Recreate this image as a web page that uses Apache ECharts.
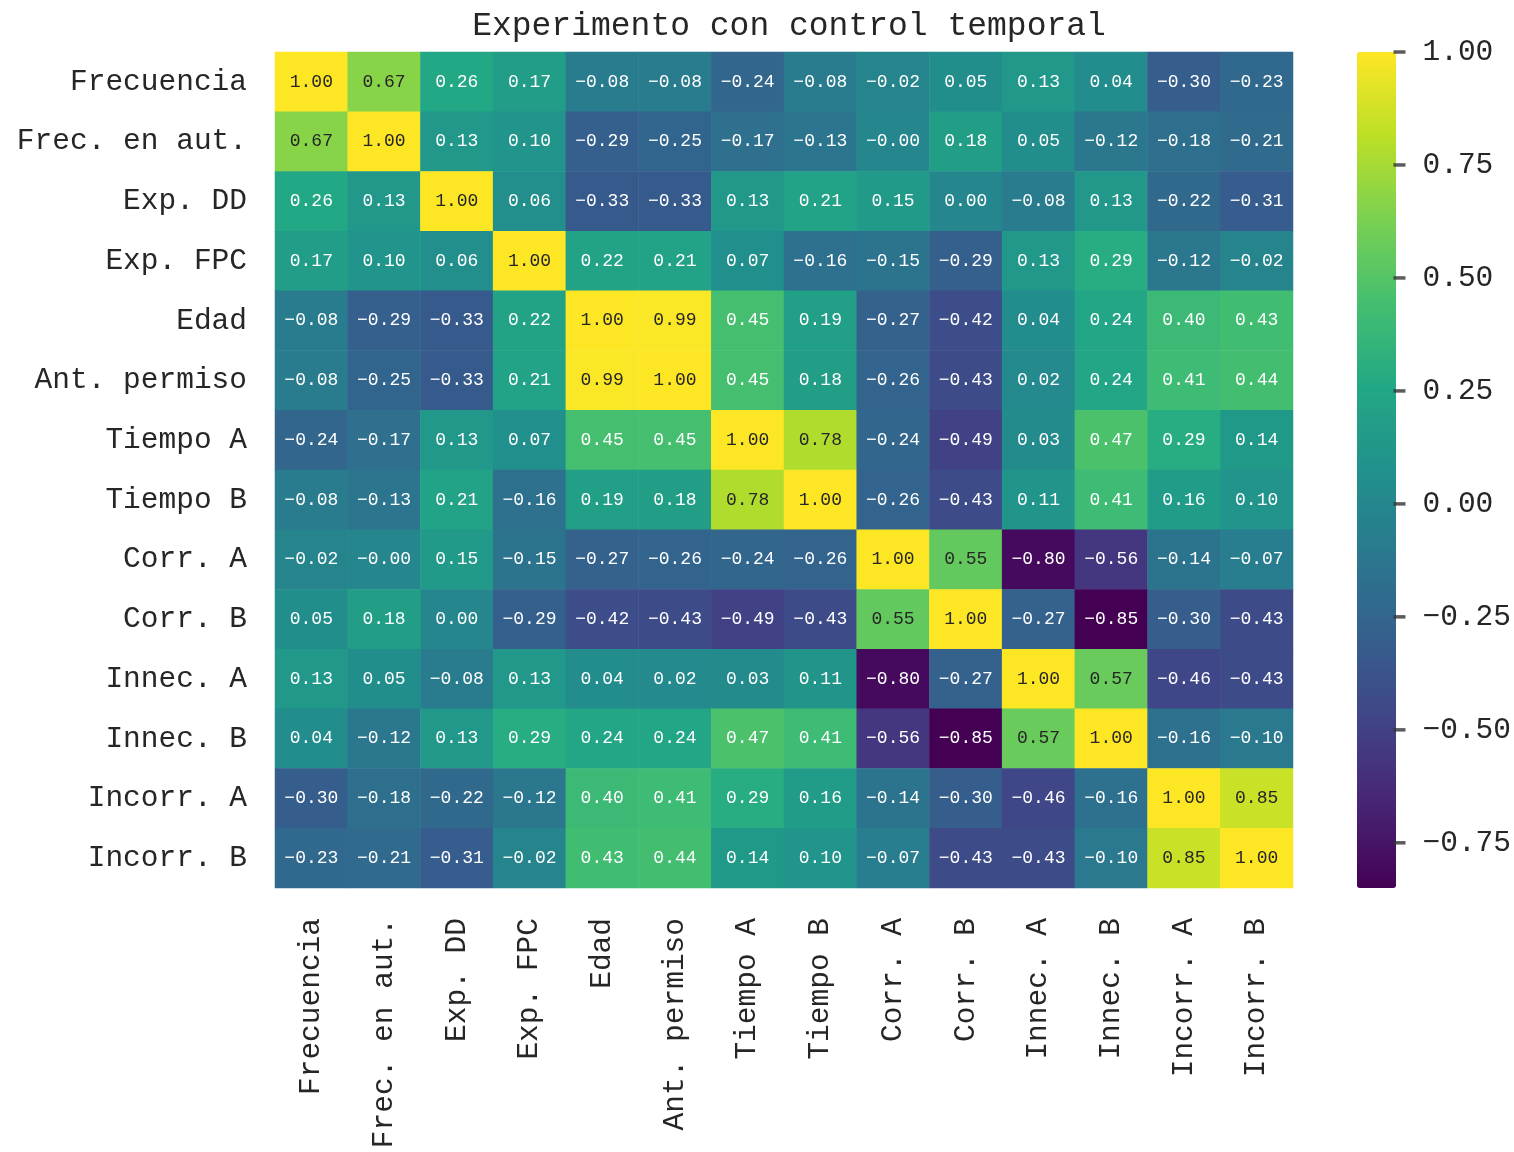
<!DOCTYPE html>
<html>
<head>
<meta charset="utf-8">
<script src="https://cdn.jsdelivr.net/npm/echarts@6/dist/echarts.min.js"></script>
<style>
  html, body { margin: 0; padding: 0; background: #fff; }
  #chart { width: 1514px; height: 1152px; }
</style>
</head>
<body>
<div id="chart"></div>
<script>
const labels = ['Frecuencia', 'Frec. en aut.', 'Exp. DD', 'Exp. FPC', 'Edad', 'Ant. permiso',
  'Tiempo A', 'Tiempo B', 'Corr. A', 'Corr. B', 'Innec. A', 'Innec. B', 'Incorr. A', 'Incorr. B']

// correlation matrix, one array per row (-0.004 shows as "-0.00")
const rowFrecuencia = [1.00, 0.67, 0.26, 0.17, -0.08, -0.08, -0.24, -0.08, -0.02, 0.05, 0.13, 0.04, -0.30, -0.23]
const rowFrecAut = [0.67, 1.00, 0.13, 0.10, -0.29, -0.25, -0.17, -0.13, -0.004, 0.18, 0.05, -0.12, -0.18, -0.21]
const rowExpDD = [0.26, 0.13, 1.00, 0.06, -0.33, -0.33, 0.13, 0.21, 0.15, 0.00, -0.08, 0.13, -0.22, -0.31]
const rowExpFPC = [0.17, 0.10, 0.06, 1.00, 0.22, 0.21, 0.07, -0.16, -0.15, -0.29, 0.13, 0.29, -0.12, -0.02]
const rowEdad = [-0.08, -0.29, -0.33, 0.22, 1.00, 0.99, 0.45, 0.19, -0.27, -0.42, 0.04, 0.24, 0.40, 0.43]
const rowAntPermiso = [-0.08, -0.25, -0.33, 0.21, 0.99, 1.00, 0.45, 0.18, -0.26, -0.43, 0.02, 0.24, 0.41, 0.44]
const rowTiempoA = [-0.24, -0.17, 0.13, 0.07, 0.45, 0.45, 1.00, 0.78, -0.24, -0.49, 0.03, 0.47, 0.29, 0.14]
const rowTiempoB = [-0.08, -0.13, 0.21, -0.16, 0.19, 0.18, 0.78, 1.00, -0.26, -0.43, 0.11, 0.41, 0.16, 0.10]
const rowCorrA = [-0.02, -0.004, 0.15, -0.15, -0.27, -0.26, -0.24, -0.26, 1.00, 0.55, -0.80, -0.56, -0.14, -0.07]
const rowCorrB = [0.05, 0.18, 0.00, -0.29, -0.42, -0.43, -0.49, -0.43, 0.55, 1.00, -0.27, -0.85, -0.30, -0.43]
const rowInnecA = [0.13, 0.05, -0.08, 0.13, 0.04, 0.02, 0.03, 0.11, -0.80, -0.27, 1.00, 0.57, -0.46, -0.43]
const rowInnecB = [0.04, -0.12, 0.13, 0.29, 0.24, 0.24, 0.47, 0.41, -0.56, -0.85, 0.57, 1.00, -0.16, -0.10]
const rowIncorrA = [-0.30, -0.18, -0.22, -0.12, 0.40, 0.41, 0.29, 0.16, -0.14, -0.30, -0.46, -0.16, 1.00, 0.85]
const rowIncorrB = [-0.23, -0.21, -0.31, -0.02, 0.43, 0.44, 0.14, 0.10, -0.07, -0.43, -0.43, -0.10, 0.85, 1.00]

const colorbarTicks = [-0.75, -0.5, -0.25, 0, 0.25, 0.5, 0.75, 1.0]
const vmin = -0.85
const vmax = 1.0

const rows = [rowFrecuencia, rowFrecAut, rowExpDD, rowExpFPC, rowEdad, rowAntPermiso, rowTiempoA,
  rowTiempoB, rowCorrA, rowCorrB, rowInnecA, rowInnecB, rowIncorrA, rowIncorrB]

const viridis = ['#440154', '#482475', '#414487', '#355f8d', '#2a788e', '#21918c',
  '#22a884', '#44bf70', '#7ad151', '#bddf26', '#fde725']

const font = 'Liberation Mono'
const fmt = v => v.toFixed(2).replace('-', '\u2212')

const cells = []
rows.forEach((row, y) => {
  row.forEach((v, x) => {
    cells.push({
      value: [x, y, v],
      label: { color: v > 0.5 ? '#262626' : '#ffffff' }
    })
  })
})

const chart = echarts.init(document.getElementById('chart'))
chart.setOption({
  backgroundColor: '#fff',
  animation: false,
  title: {
    text: 'Experimento con control temporal',
    left: 784,
    textAlign: 'center',
    top: 5,
    textStyle: { fontFamily: font, fontSize: 33, fontWeight: 'normal', color: '#262626' }
  },
  grid: [
    { left: 275, right: 221, top: 52, bottom: 264 },
    { left: 1357, width: 39, top: 52, height: 836 }
  ],
  xAxis: [
    {
      type: 'category',
      data: labels,
      gridIndex: 0,
      axisLine: { show: false },
      axisTick: { show: false },
      splitLine: { show: false },
      axisLabel: {
        rotate: 90,
        margin: 30,
        interval: 0,
        fontFamily: font,
        fontSize: 29.5,
        color: '#262626'
      }
    },
    { type: 'value', gridIndex: 1, show: false, min: 0, max: 1 }
  ],
  yAxis: [
    {
      type: 'category',
      data: labels,
      inverse: true,
      gridIndex: 0,
      axisLine: { show: false },
      axisTick: { show: false },
      splitLine: { show: false },
      axisLabel: {
        margin: 28,
        interval: 0,
        fontFamily: font,
        fontSize: 29.5,
        color: '#262626'
      }
    },
    {
      type: 'value',
      gridIndex: 1,
      min: vmin,
      max: vmax,
      position: 'right',
      axisLine: { show: false },
      splitLine: { show: false },
      axisTick: { show: false },
      axisLabel: {
        customValues: colorbarTicks,
        margin: 29,
        fontFamily: font,
        fontSize: 29.5,
        color: '#262626',
        formatter: fmt
      }
    }
  ],
  visualMap: {
    type: 'continuous',
    min: vmin,
    max: vmax,
    seriesIndex: 0,
    calculable: false,
    orient: 'vertical',
    left: 1357,
    top: 52,
    padding: 0,
    itemWidth: 39,
    itemHeight: 836,
    text: null,
    showLabel: false,
    inRange: { color: viridis }
  },
  series: [
    {
      type: 'heatmap',
      xAxisIndex: 0,
      yAxisIndex: 0,
      data: cells,
      itemStyle: { borderWidth: 0 },
      label: {
        show: true,
        fontFamily: font,
        fontSize: 18,
        formatter: p => fmt(p.value[2])
      }
    },
    {
      // colorbar tick marks
      type: 'scatter',
      xAxisIndex: 1,
      yAxisIndex: 1,
      silent: true,
      clip: false,
      z: 10,
      symbol: 'rect',
      symbolSize: [12, 3.5],
      symbolOffset: [6, 0],
      itemStyle: { color: '#333' },
      data: colorbarTicks.map(t => [1, t])
    }
  ]
})
</script>
</body>
</html>
